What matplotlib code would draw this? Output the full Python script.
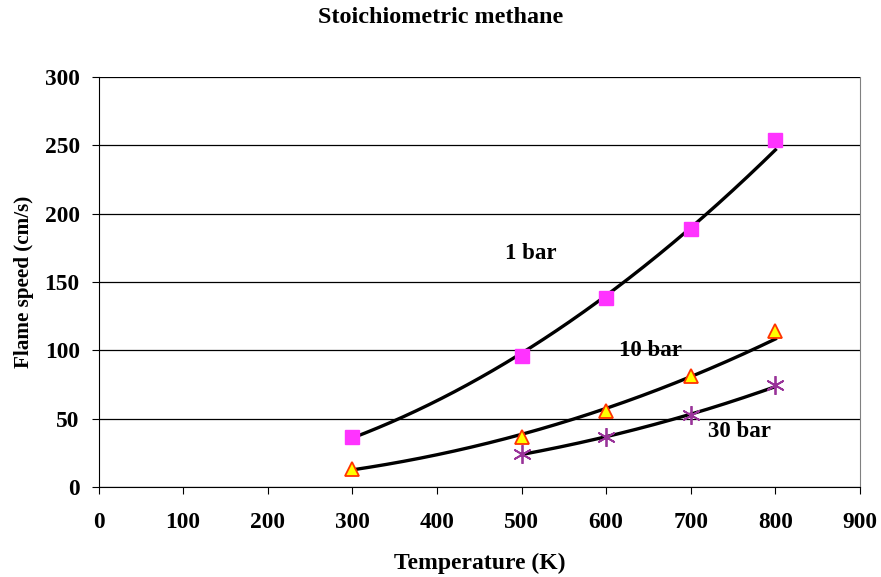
import numpy as np
import matplotlib.pyplot as plt

plt.rcParams['font.family'] = ['Liberation Serif', 'DejaVu Serif']
plt.rcParams['font.weight'] = 'bold'

# Temperatura (K) i brzina plamena (cm/s)
temp_1bar = [300, 500, 600, 700, 800]
speed_1bar = [36.5, 95.5, 138, 188.5, 254]

temp_10bar = [300, 500, 600, 700, 800]
speed_10bar = [13, 36.5, 55.5, 81, 114]

temp_30bar = [500, 600, 700, 800]
speed_30bar = [24, 36.5, 52.5, 74.5]

x_ticks = [0, 100, 200, 300, 400, 500, 600, 700, 800, 900]
y_ticks = [0, 50, 100, 150, 200, 250, 300]


def trend(x, y):
    # stepeni trend (power) kao u Excelu: y = a * x^b
    b, ln_a = np.polyfit(np.log(x), np.log(y), 1)
    xs = np.linspace(min(x), max(x), 200)
    return xs, np.exp(ln_a) * xs ** b


fig = plt.figure(figsize=(8.81, 5.77), dpi=100)
ax = fig.add_axes([98.5 / 881, 1 - 487 / 577, (860 - 98.5) / 881, 410 / 577])

for x, y in [(temp_1bar, speed_1bar), (temp_10bar, speed_10bar), (temp_30bar, speed_30bar)]:
    xs, ys = trend(x, y)
    ax.plot(xs, ys, color='black', linewidth=2.4, zorder=3)

ax.plot(temp_1bar, speed_1bar, 's', color='#ff33ff', markersize=10.3, zorder=4)
ax.plot(temp_10bar, speed_10bar, '^', markerfacecolor='#ffff00',
        markeredgecolor='#ff3300', markeredgewidth=1.3, markersize=10, zorder=4)
ax.plot(temp_30bar, speed_30bar, marker=(6, 2, 0), linestyle='none',
        color='#993399', markersize=13.5, markeredgewidth=1.3, zorder=4)

ax.text(511, 170.5, '1 bar', fontsize=16.5, fontweight='bold', ha='center', va='center')
ax.text(652, 99.7, '10 bar', fontsize=16.5, fontweight='bold', ha='center', va='center')
ax.text(757, 40.5, '30 bar', fontsize=16.5, fontweight='bold', ha='center', va='center')

ax.set_xlim(0, 900)
ax.set_ylim(0, 300)
ax.set_xticks(x_ticks)
ax.set_yticks(y_ticks)
ax.tick_params(axis='both', labelsize=16.8, direction='out', length=5)
ax.tick_params(axis='x', pad=13)
ax.tick_params(axis='y', pad=8.5)
ax.yaxis.grid(True, color='black', linewidth=0.9)
ax.set_axisbelow(True)
ax.spines['top'].set_visible(False)
ax.spines['right'].set_color('#808080')

ax.set_xlabel('Temperature (K)', fontsize=17, fontweight='bold', labelpad=14)
ax.set_ylabel('Flame speed (cm/s)', fontsize=15.2, fontweight='bold', labelpad=8)
fig.text(441 / 881, 1 - 23 / 577, 'Stoichiometric methane',
         fontsize=17.4, fontweight='bold', ha='center', va='baseline')

fig.savefig('out.png', dpi=100)
